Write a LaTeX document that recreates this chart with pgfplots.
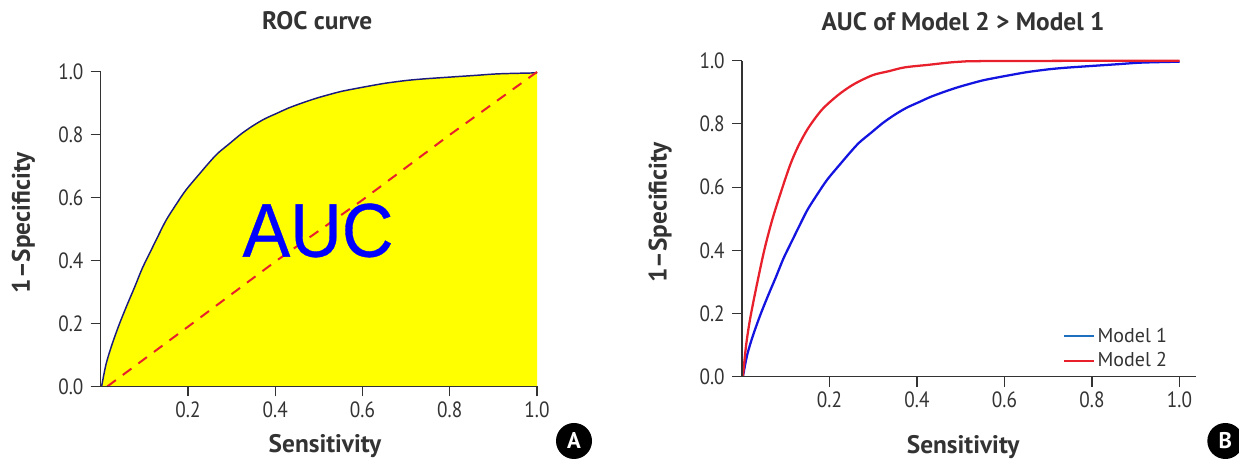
\documentclass[border=0pt]{standalone}
\usepackage{pgfplots}
\usepackage{pgfplotstable}
\usepackage{fontspec}
\pgfplotsset{compat=1.18}
\setmainfont{PT Sans}
\newfontfamily\aucfont[FakeBold=0.5]{Liberation Sans}
\definecolor{txt}{HTML}{333333}
\definecolor{navy}{HTML}{1A1A80}
\definecolor{mblue}{HTML}{1414E0}
\definecolor{aucblue}{RGB}{0,0,255}
\definecolor{mred}{HTML}{E8202C}
\definecolor{ltblue}{HTML}{1F6FC0}
\definecolor{fillyellow}{RGB}{255,255,0}
\pgfplotstableread{
x y
0.002 0
0.012 0.070
0.025 0.130
0.042 0.196
0.060 0.258
0.078 0.317
0.095 0.375
0.114 0.429
0.132 0.480
0.150 0.529
0.172 0.577
0.195 0.624
0.227 0.677
0.248 0.711
0.268 0.741
0.295 0.772
0.322 0.803
0.349 0.829
0.376 0.851
0.403 0.868
0.430 0.885
0.457 0.899
0.480 0.910
0.503 0.920
0.548 0.937
0.580 0.946
0.611 0.954
0.652 0.964
0.702 0.973
0.742 0.978
0.805 0.984
0.859 0.989
0.913 0.994
1.0 0.997
}\modelone
\pgfplotstableread{
x y
0.002 0
0.009 0.095
0.018 0.179
0.033 0.285
0.051 0.401
0.069 0.496
0.088 0.580
0.110 0.670
0.128 0.728
0.151 0.786
0.182 0.844
0.214 0.885
0.240 0.912
0.264 0.932
0.300 0.955
0.336 0.967
0.372 0.979
0.426 0.987
0.489 0.996
0.570 0.999
1.0 1.0
}\modeltwo
\pgfplotsset{
  roc/.style={
    scale only axis,
    axis lines=left,
    axis line style={-,draw=txt,line width=0.8pt},
    tick style={draw=txt,line width=0.8pt},
    tick align=outside,
    major tick length=7.5pt,
    xtick={0.2,0.4,0.6,0.8,1.0},
    ytick={0,0.2,0.4,0.6,0.8,1.0},
    ymin=0,ymax=1,xmin=0,
    /pgf/number format/assume math mode=true,
    /pgf/number format/fixed,
    /pgf/number format/fixed zerofill,
    /pgf/number format/precision=1,
    tick label style={font=\fontsize{14.4pt}{16pt}\selectfont,text=txt,yscale=1.15},
    label style={font=\fontsize{19pt}{21pt}\selectfont\bfseries,text=txt},
    title style={font=\fontsize{19pt}{21pt}\selectfont\bfseries,text=txt},
    yticklabel style={xshift=-2pt},
    axis on top,
    clip=false,
  }
}
\begin{document}
\begin{tikzpicture}[x=1pt,y=1pt]
\useasboundingbox (0,0) rectangle (929.25,344.25);
\begin{axis}[roc,
  at={(75.56pt,54.4pt)},anchor=south west,
  width=327.2pt,height=235.9pt,xmax=1,
  title={ROC curve},
  title style={at={(axis description cs:0.496,1.137)},anchor=center},
  xlabel={Sensitivity},
  xlabel style={at={(axis description cs:0.514,-0.19)},anchor=center},
  ylabel={1--Specificity},
  ylabel style={at={(axis description cs:-0.177,0.52)},anchor=center},
]
\addplot[draw=none,fill=fillyellow,forget plot,smooth,tension=0.5] table[x=x,y=y]{\modelone} -- (axis cs:1,0) -- (axis cs:0.002,0) -- cycle;
\addplot[navy,line width=1.1pt,smooth,tension=0.5,forget plot] table[x=x,y=y]{\modelone};
\addplot[mred,line width=1.5pt,dash pattern=on 8pt off 6.5pt,forget plot] coordinates {(0.015,0) (0.2,0.19) (0.4,0.397) (0.6,0.593) (0.8,0.8) (1,1)};
\node[text=aucblue,font=\fontsize{57pt}{60pt}\selectfont\aucfont,xscale=0.94] at (axis cs:0.498,0.496) {AUC};
\end{axis}
\begin{axis}[roc,
  at={(556.5pt,61.7pt)},anchor=south west,
  width=340.5pt,height=237pt,xmax=1.0377,
  title={AUC of Model 2 > Model 1},
  title style={at={(axis description cs:0.487,1.098)},anchor=center},
  xlabel={Sensitivity},
  xlabel style={at={(axis description cs:0.487,-0.221)},anchor=center},
  ylabel={1--Specificity},
  ylabel style={at={(axis description cs:-0.18,0.52)},anchor=center},
  legend style={draw=none,fill=none,at={(axis cs:0.734,0.164)},anchor=north west,
    font=\fontsize{15pt}{17pt}\selectfont,text=txt,row sep=2.5pt,
    legend cell align=left,inner sep=0pt},
  legend image post style={xscale=1.32},
]
\addplot[mblue,line width=1.7pt,smooth,tension=0.5,forget plot] table[x=x,y=y]{\modelone};
\addplot[mred,line width=1.7pt,smooth,tension=0.5,forget plot] table[x=x,y=y]{\modeltwo};
\addlegendimage{ltblue,line width=1.1pt}
\addlegendentry{Model 1}
\addlegendimage{mred,line width=1.1pt}
\addlegendentry{Model 2}
\end{axis}
\node[circle,fill=black,text=white,minimum size=27pt,inner sep=0pt,font=\fontsize{17pt}{18pt}\selectfont\bfseries] at (430.5,13.5) {A};
\node[circle,fill=black,text=white,minimum size=27pt,inner sep=0pt,font=\fontsize{17pt}{18pt}\selectfont\bfseries] at (919,13.5) {B};
\end{tikzpicture}
\end{document}
